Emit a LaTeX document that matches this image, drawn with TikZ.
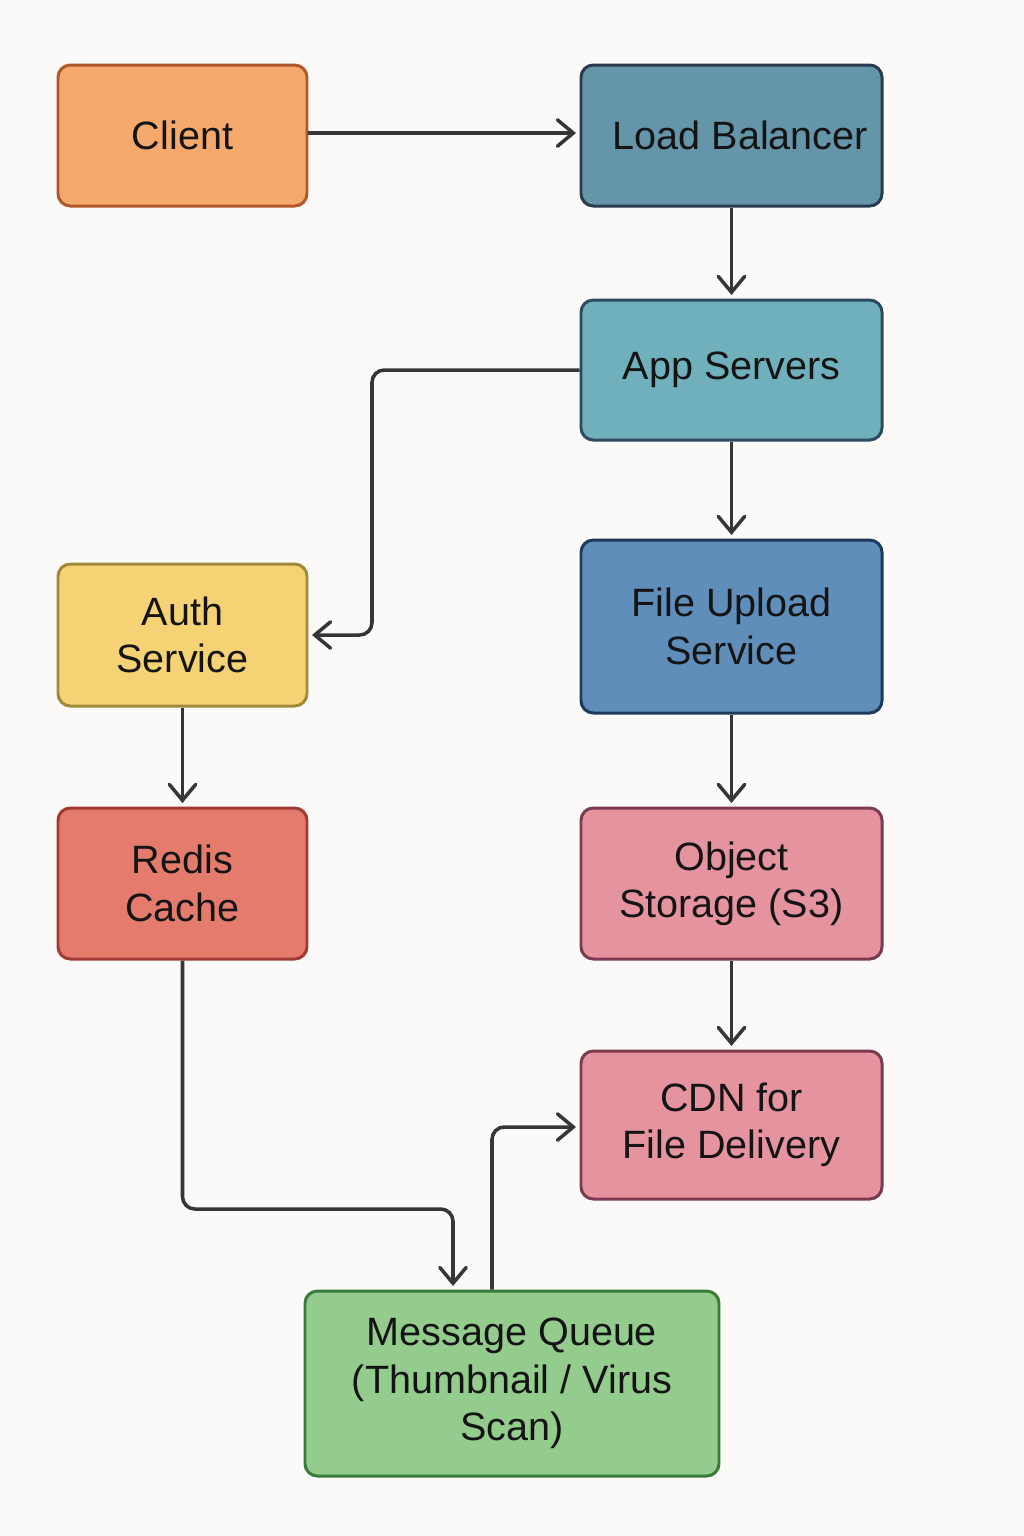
\documentclass[tikz,border=0pt]{standalone}
\usepackage{fontspec}
\setmainfont{Liberation Sans}
\usetikzlibrary{arrows.meta}
\definecolor{bg}{HTML}{FBFAF8}
\definecolor{ink}{HTML}{141414}
\definecolor{linec}{HTML}{363638}
\definecolor{clientF}{HTML}{F6A96C}\definecolor{clientD}{HTML}{B0582A}
\definecolor{lbF}{HTML}{6495A8}\definecolor{lbD}{HTML}{2A3A50}
\definecolor{appF}{HTML}{70B0BC}\definecolor{appD}{HTML}{2D4A60}
\definecolor{fusF}{HTML}{5F8EBA}\definecolor{fusD}{HTML}{1E3A5A}
\definecolor{authF}{HTML}{F5D274}\definecolor{authD}{HTML}{A08A3A}
\definecolor{redisF}{HTML}{E57B6C}\definecolor{redisD}{HTML}{A03A33}
\definecolor{pinkF}{HTML}{E693A0}\definecolor{pinkD}{HTML}{7A3A50}
\definecolor{mqF}{HTML}{94CC8E}\definecolor{mqD}{HTML}{3A7A3A}
\tikzset{
  box/.style={draw, line width=1.7pt, rounded corners=7pt, align=center,
    text=ink, font=\fontsize{22.5}{27}\selectfont, inner sep=0pt},
  arr/.style={draw=linec, line width=2pt, rounded corners=7pt,
    -{Straight Barb[length=9pt,width=15pt,line width=2pt,line cap=round]}, shorten >=2pt}
}
\begin{document}
\begin{tikzpicture}[x=0.02cm,y=-0.02cm]
\fill[bg] (0,0) rectangle (1024,1536);
\useasboundingbox (0,0) rectangle (1024,1536);
\node[box, fill=clientF, draw=clientD, minimum width=249*0.02cm, minimum height=141*0.02cm] (client) at (182.5,135.5) {Client};
\node[box, fill=lbF, draw=lbD, minimum width=301*0.02cm, minimum height=141*0.02cm] (lb) at (731.5,135.5) {\hspace*{10pt}Load Balancer};
\node[box, fill=appF, draw=appD, minimum width=301*0.02cm, minimum height=140*0.02cm] (app) at (731.5,370) {App Servers};
\node[box, fill=fusF, draw=fusD, minimum width=301*0.02cm, minimum height=173*0.02cm] (fus) at (731.5,626.5) {File Upload\\Service};
\node[box, fill=authF, draw=authD, minimum width=249*0.02cm, minimum height=142*0.02cm] (auth) at (182.5,635) {Auth\\Service};
\node[box, fill=redisF, draw=redisD, minimum width=249*0.02cm, minimum height=151*0.02cm] (redis) at (182.5,883.5) {Redis\\Cache};
\node[box, fill=pinkF, draw=pinkD, minimum width=301*0.02cm, minimum height=151*0.02cm] (obj) at (731.5,883.5) {Object\\Storage (S3)};
\node[box, fill=pinkF, draw=pinkD, minimum width=301*0.02cm, minimum height=148*0.02cm] (cdn) at (731.5,1125) {CDN for\\File Delivery};
\node[box, fill=mqF, draw=mqD, minimum width=414*0.02cm, minimum height=185*0.02cm] (mq) at (512,1383.5) {Message Queue\\(Thumbnail / Virus\\Scan)};
\coordinate (a1) at (372,370);
\coordinate (c1) at (453,1209);
\coordinate (c2) at (492,1127);
\draw[arr] (client.east |- 0,133) -- (lb.west |- 0,133);
\draw[arr] (lb.south) -- (app.north);
\draw[arr] (app.west) -- (a1) |- (auth.east);
\draw[arr] (app.south) -- (fus.north);
\draw[arr] (auth.south) -- (redis.north);
\draw[arr] (fus.south) -- (obj.north);
\draw[arr] (obj.south) -- (cdn.north);
\draw[arr] (redis.south) |- (c1) -- (c1 |- mq.north);
\draw[arr] (c2 |- mq.north) -- (c2) -- (cdn.west |- c2);
\end{tikzpicture}
\end{document}
